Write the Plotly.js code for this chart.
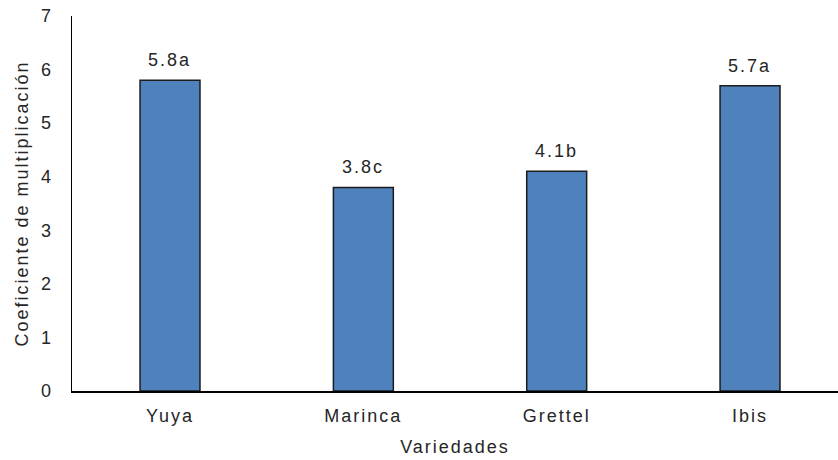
<!DOCTYPE html>
<html>
<head>
<meta charset="utf-8">
<script src="https://cdn.plot.ly/plotly-3.0.1.min.js"></script>
<style>
html,body{margin:0;padding:0;background:#fff;overflow:hidden}
#chart text{letter-spacing:2px}
#chart .ytick text{letter-spacing:0}
</style>
</head>
<body>
<div id="chart" style="width:838px;height:460px"></div>
<script>
var categories = ["Yuya", "Marinca", "Grettel", "Ibis"];
var values = [5.8, 3.8, 4.1, 5.7];
var labels = ["5.8a", "3.8c", "4.1b", "5.7a"];
var yTicks = [0, 1, 2, 3, 4, 5, 6, 7];

var FONT = "Liberation Sans, Arial, sans-serif";
var TXT = "#262626";

var trace = {
  type: "bar",
  x: categories,
  y: values,
  width: 0.31,
  marker: { color: "#4F81BD", line: { color: "#1c1c1c", width: 1.5 } },
  hoverinfo: "none"
};

var annotations = categories.map(function (c, i) {
  return {
    x: c, y: values[i], text: labels[i],
    xref: "x", yref: "y",
    showarrow: false, yanchor: "bottom", yshift: 8,
    font: { family: FONT, size: 18, color: TXT }
  };
});

var layout = {
  width: 838, height: 460,
  margin: { l: 72, r: 0, t: 16, b: 69 },
  paper_bgcolor: "#fff", plot_bgcolor: "#fff",
  showlegend: false,
  font: { family: FONT, size: 18, color: TXT },
  xaxis: {
    type: "category",
    range: [-0.507, 3.455],
    showline: true, linecolor: "#000", linewidth: 1.5,
    showgrid: false, zeroline: false,
    ticks: "outside", ticklen: 8, tickcolor: "rgba(0,0,0,0)",
    tickfont: { family: FONT, size: 18, color: TXT },
    title: { text: "Variedades", font: { family: FONT, size: 18, color: TXT }, standoff: 15 }
  },
  yaxis: {
    range: [0, 7],
    tickvals: yTicks,
    ticktext: yTicks.map(String),
    showline: true, linecolor: "#000", linewidth: 1.5,
    showgrid: false, zeroline: false,
    ticks: "outside", ticklen: 16, tickcolor: "rgba(0,0,0,0)",
    tickfont: { family: FONT, size: 18, color: TXT },
    title: { text: "Coeficiente de multiplicación", font: { family: FONT, size: 18, color: TXT }, standoff: 7 }
  },
  annotations: annotations
};

Plotly.newPlot("chart", [trace], layout, { displayModeBar: false, staticPlot: true });
</script>
</body>
</html>
